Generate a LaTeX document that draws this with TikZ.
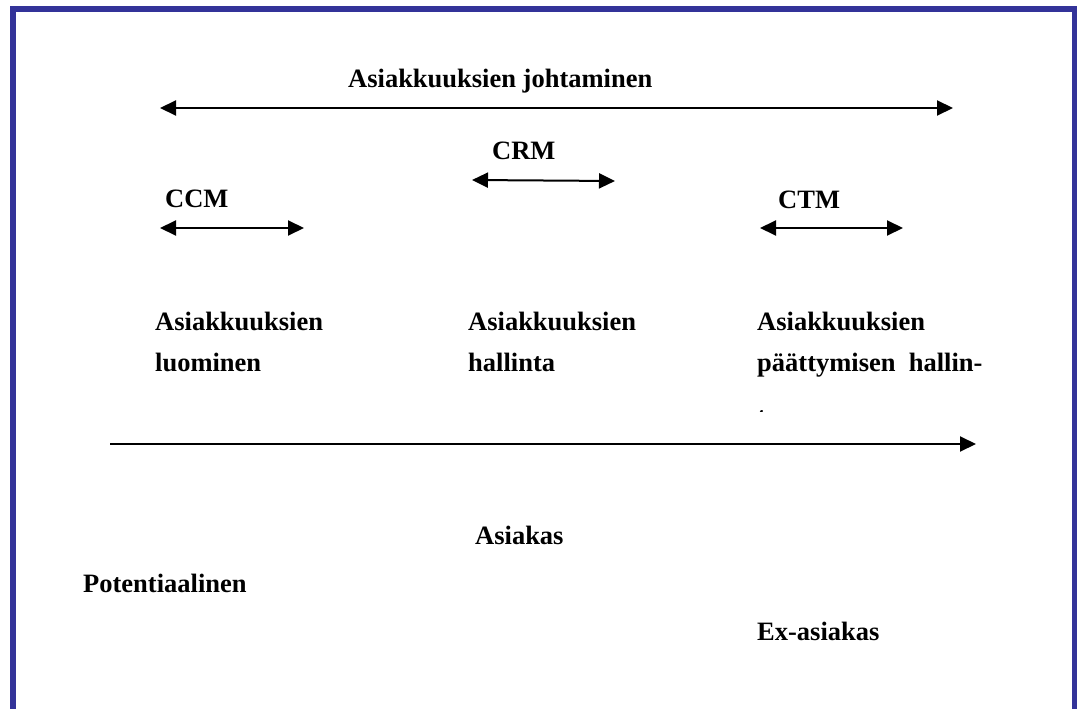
\documentclass[tikz,border=0pt]{standalone}
\usepackage{fontspec}
\setmainfont{Liberation Serif}
\usetikzlibrary{arrows.meta}
\definecolor{framecol}{RGB}{51,51,153}
\tikzset{
  lbl/.style={font=\fontsize{26.5}{41}\selectfont\rmfamily\bfseries, inner sep=0pt, anchor=base west},
  dbl/.style={line width=2pt, {Triangle[length=16pt,width=15pt]}-{Triangle[length=16pt,width=15pt]}},
  sgl/.style={line width=2pt, -{Triangle[length=16pt,width=15pt]}},
}
\begin{document}
\begin{tikzpicture}[x=1pt,y=-1pt]
\useasboundingbox (0,0) rectangle (1077,709);
% frame, open at the bottom
\draw[framecol, line width=5.5pt] (13,720) -- (13,9) -- (1074.5,9) -- (1074.5,720);
% whole span
\node[lbl] (johto) at (348,88) {Asiakkuuksien johtaminen};
\coordinate (johtoL) at (160,108);
\coordinate (johtoR) at (953,108);
\draw[dbl] (johtoL) -- (johtoR);
% CRM
\node[lbl] (crm) at (492,159) {CRM};
\coordinate (crmL) at (472,180);
\coordinate (crmR) at (615,181);
\draw[dbl] (crmL) -- (crmR);
% CCM
\node[lbl] (ccm) at (165,207) {CCM};
\coordinate (ccmL) at (160,228);
\coordinate (ccmR) at (304,228);
\draw[dbl] (ccmL) -- (ccmR);
% CTM
\node[lbl] (ctm) at (778,208) {CTM};
\coordinate (ctmL) at (760,228);
\coordinate (ctmR) at (903,228);
\draw[dbl] (ctmL) -- (ctmR);
% phases
\node[lbl] (luo1) at (155,330) {Asiakkuuksien};
\node[lbl] (luo2) at (155,371) {luominen};
\node[lbl] (hal1) at (468,330) {Asiakkuuksien};
\node[lbl] (hal2) at (468,371) {hallinta};
\node[lbl] (paa1) at (757,330) {Asiakkuuksien};
\node[lbl] (paa2) at (757,371) {päättymisen\ \ hallin-};
\begin{scope}
\clip (740,380) rectangle (1000,411);
\node[lbl] (paa3) at (757,425) {ta};
\end{scope}
% time line
\coordinate (aikaL) at (110,444);
\coordinate (aikaR) at (976,444);
\draw[sgl] (aikaL) -- (aikaR);
% customer stages
\node[lbl] (asiakas) at (475,544) {Asiakas};
\node[lbl] (potent) at (83,592) {Potentiaalinen};
\node[lbl] (exas) at (757,640) {Ex-asiakas};
\end{tikzpicture}
\end{document}
